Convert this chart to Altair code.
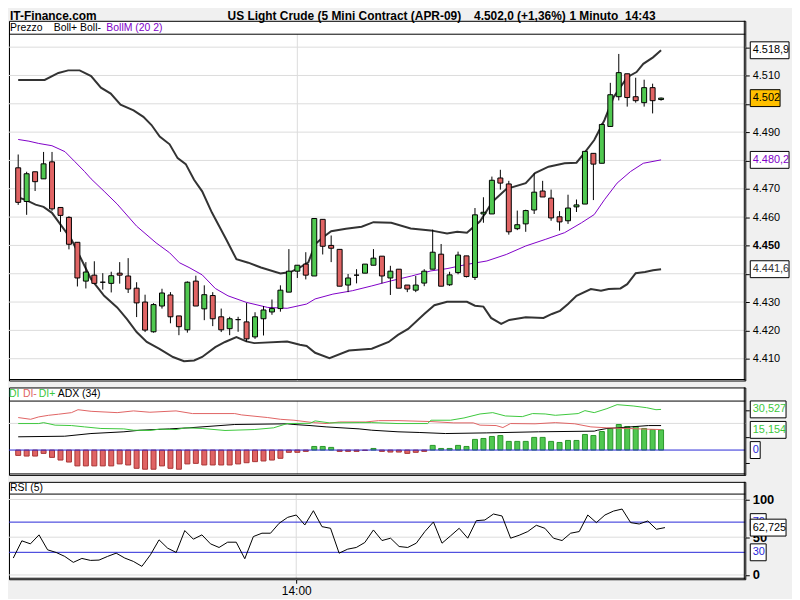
import altair as alt
import pandas as pd

FONT = "Liberation Sans"

# ---------------- data ----------------
idx = list(range(77))  # 1-minute candles, index 0 = 13:27, 33 = 14:00, 76 = 14:43
opens = [4477.4, 4465.5, 4476.0, 4473.5, 4479.5, 4463.4, 4459.9, 4451.1, 4437.4, 4439.5,
         4437.0, 4436.6, 4440.2, 4439.2, 4434.9, 4430.0, 4419.5, 4428.6, 4432.5, 4425.1,
         4420.2, 4437.4, 4427.6, 4432.3, 4424.8, 4420.6, 4423.8, 4423.0, 4417.7, 4424.1,
         4426.5, 4427.7, 4433.5, 4440.9, 4443.4, 4439.2, 4459.2, 4450.0, 4448.6, 4436.0,
         4439.5, 4440.2, 4443.0, 4446.2, 4438.5, 4441.6, 4436.0, 4434.2, 4436.7, 4441.6,
         4446.9, 4436.1, 4440.4, 4446.3, 4438.7, 4461.1, 4461.1, 4473.8, 4471.7, 4455.9,
         4457.6, 4462.5, 4469.2, 4466.7, 4460.1, 4458.7, 4463.6, 4464.6, 4482.5, 4479.0,
         4492.0, 4502.5, 4510.6, 4502.5, 4500.4, 4505.7, 4501.5]
highs = [4482.1, 4476.0, 4476.0, 4483.0, 4483.0, 4463.4, 4460.3, 4451.1, 4444.1, 4444.4,
         4440.2, 4440.7, 4444.1, 4445.5, 4437.0, 4432.6, 4429.6, 4434.7, 4433.5, 4425.1,
         4437.3, 4439.3, 4435.9, 4433.5, 4427.7, 4424.8, 4424.8, 4429.7, 4426.4, 4428.6,
         4430.9, 4435.9, 4448.7, 4443.0, 4447.6, 4459.5, 4459.2, 4453.5, 4448.6, 4439.9,
         4441.6, 4443.4, 4448.7, 4446.2, 4442.8, 4441.6, 4436.0, 4439.2, 4441.6, 4455.6,
         4450.5, 4440.7, 4447.8, 4446.3, 4463.2, 4467.0, 4474.3, 4476.7, 4472.8, 4462.3,
         4462.6, 4475.5, 4472.8, 4469.7, 4462.1, 4467.9, 4466.2, 4483.2, 4482.5, 4493.1,
         4507.4, 4517.6, 4510.6, 4509.2, 4508.5, 4507.1, 4502.2]
lows = [4464.3, 4460.8, 4469.2, 4473.5, 4462.2, 4454.8, 4448.6, 4435.5, 4434.8, 4436.6,
        4434.4, 4433.4, 4436.5, 4433.2, 4424.7, 4419.4, 4419.2, 4427.7, 4422.5, 4418.3,
        4419.2, 4428.6, 4423.6, 4421.5, 4419.4, 4418.3, 4419.5, 4416.0, 4417.0, 4418.2,
        4425.5, 4426.6, 4433.5, 4438.5, 4438.0, 4439.2, 4446.8, 4444.1, 4435.6, 4433.5,
        4436.6, 4440.2, 4443.0, 4436.6, 4432.5, 4434.9, 4433.5, 4433.5, 4435.6, 4441.6,
        4435.6, 4435.7, 4439.8, 4438.7, 4437.8, 4458.0, 4461.1, 4469.7, 4453.8, 4455.4,
        4454.8, 4461.1, 4467.1, 4458.7, 4455.2, 4457.6, 4461.8, 4464.6, 4466.0, 4479.0,
        4492.0, 4501.2, 4499.0, 4500.4, 4499.0, 4496.6, 4501.1]
closes = [4465.2, 4475.3, 4472.5, 4478.8, 4462.9, 4460.6, 4450.4, 4438.5, 4440.6, 4436.6,
          4437.0, 4439.3, 4439.5, 4434.6, 4429.7, 4420.1, 4429.1, 4433.2, 4424.8, 4421.3,
          4437.0, 4428.6, 4432.6, 4424.1, 4420.2, 4424.1, 4423.8, 4417.0, 4424.8, 4427.2,
          4427.7, 4434.2, 4440.9, 4443.0, 4439.5, 4459.5, 4449.7, 4449.0, 4435.6, 4438.5,
          4439.5, 4443.4, 4445.5, 4439.2, 4440.9, 4434.9, 4434.6, 4436.0, 4440.9, 4447.6,
          4435.6, 4439.6, 4446.6, 4439.0, 4460.8, 4461.7, 4473.0, 4472.0, 4454.8, 4457.3,
          4462.3, 4468.8, 4467.1, 4459.7, 4458.3, 4463.2, 4464.3, 4483.2, 4478.7, 4492.7,
          4503.2, 4511.0, 4502.2, 4501.1, 4505.7, 4501.1, 4502.0]

upper_x = [0, 3.13, 4.75, 5.91, 7.27, 8.62, 9.78, 10.94, 12.1, 13.64, 14.8, 15.76, 16.73, 17.9,
           18.85, 19.81, 20.79, 21.75, 22.9, 24.6, 25.8, 27.2, 28.7, 31.0, 32.2, 33.3, 34.3, 35.1,
           36.0, 37.0, 38.75, 40.6, 42.0, 44.1, 46.4, 48.75, 50.7, 51.9, 53.05, 54.6, 56.1, 57.7,
           60.0, 61.1, 62.7, 64.6, 66.0, 66.9, 68.1, 69.3, 70.4, 72.0, 73.1, 73.9, 75.05, 76]
upper_v = [4508.4, 4508.4, 4510.9, 4511.8, 4511.8, 4509.8, 4505.7, 4503.6, 4499.7, 4497.7,
           4495.4, 4492.5, 4488.4, 4485.7, 4480.8, 4478.7, 4473.2, 4469.1, 4461.6, 4452.1,
           4445.1, 4443.9, 4442.2, 4440.1, 4440.6, 4442.2, 4444.0, 4450.4, 4452.8, 4455.0,
           4455.9, 4456.6, 4458.2, 4458.0, 4456.0, 4455.3, 4454.2, 4454.8, 4454.5, 4458.5,
           4465.5, 4469.9, 4472.0, 4475.5, 4477.8, 4479.0, 4479.2, 4482.5, 4487.2, 4494.2,
           4502.4, 4509.4, 4511.2, 4514.1, 4516.4, 4518.9]
mid_x = [0, 1.27, 2.43, 3.99, 5.53, 6.69, 7.84, 8.62, 10.16, 11.7, 14.0, 16.3, 17.9, 19.05,
         20.2, 21.75, 23.3, 24.8, 26.96, 29.5, 31.8, 34.1, 35.1, 37.2, 39.5, 41.8, 44.1, 46.5,
         48.8, 50.7, 53.05, 55.4, 57.7, 60.0, 62.3, 64.6, 66.6, 68.1, 69.3, 70.8, 72.4, 73.9, 76]
mid_v = [4487.4, 4486.8, 4486.0, 4485.2, 4483.1, 4479.6, 4476.1, 4473.5, 4469.1, 4464.6,
         4456.8, 4450.9, 4447.4, 4443.9, 4442.2, 4439.6, 4434.8, 4432.2, 4429.9, 4428.1,
         4427.8, 4429.3, 4431.1, 4432.8, 4434.0, 4435.7, 4437.5, 4439.2, 4441.0, 4441.8,
         4443.3, 4444.5, 4446.8, 4449.8, 4452.1, 4454.5, 4458.0, 4460.9, 4466.1, 4472.0,
         4476.1, 4479.0, 4480.2]
lower_x = [0, 0.89, 2.05, 3.0, 3.99, 5.14, 6.3, 7.46, 8.62, 10.16, 11.7, 12.86, 14.0, 15.2,
           16.7, 18.3, 19.6, 20.8, 21.75, 23.3, 24.45, 25.8, 26.96, 27.9, 31.8, 33.3, 34.1,
           35.1, 36.8, 39.1, 41.8, 43.8, 44.9, 46.1, 48.0, 49.2, 50.7, 53.05, 54.0, 55.0, 55.9,
           57.1, 58.05, 60.0, 62.1, 63.1, 64.05, 65.0, 66.0, 67.7, 68.9, 69.8, 71.2, 72.0, 73.0,
           74.1, 75.05, 76]
lower_v = [4466.9, 4466.1, 4464.4, 4463.6, 4461.5, 4456.8, 4452.1, 4445.1, 4438.1, 4432.2,
           4428.1, 4424.0, 4419.4, 4415.9, 4413.5, 4410.6, 4409.1, 4409.4, 4410.6, 4414.1,
           4415.9, 4417.6, 4416.1, 4415.5, 4416.1, 4414.9, 4414.5, 4412.1, 4410.2, 4412.9,
           4413.5, 4415.9, 4418.4, 4420.5, 4425.8, 4428.9, 4430.1, 4430.1, 4428.7, 4428.4,
           4424.4, 4422.3, 4423.7, 4424.6, 4424.4, 4425.8, 4426.9, 4429.3, 4432.2, 4434.6,
           4434.0, 4434.6, 4434.8, 4436.3, 4440.2, 4440.6, 4441.2, 4441.6]

# DI histogram (DI+ minus DI-), one bar per candle
di_hist = [-4.0, -4.5, -4.5, -2.5, -5.5, -7.5, -9.0, -11.9, -11.9, -11.9,
           -11.9, -11.9, -10.4, -11.2, -13.7, -14.4, -14.4, -11.9, -13.7, -14.4,
           -10.4, -10.0, -11.2, -11.2, -11.2, -11.2, -10.4, -9.5, -8.7, -8.2,
           -7.5, -6.2, -1.7, -1.7, -1.0, 2.7, 2.7, 2.0, -1.0, -1.0,
           -1.0, -0.3, 1.2, -1.0, -1.5, -1.5, -2.5, -1.7, -1.0, 3.5,
           1.2, 1.2, 3.5, 2.7, 8.0, 8.7, 10.2, 10.9, 6.5, 6.5,
           6.5, 9.5, 9.5, 6.5, 5.7, 7.2, 7.2, 11.7, 10.9, 13.9,
           16.2, 19.2, 17.7, 17.7, 16.2, 15.4, 15.154]
dim_x = [0, 1.47, 2.43, 3.59, 4.75, 6.3, 7.07, 8.62, 11.7, 13.64, 15.57, 18.66, 20.6, 25.6,
         26.4, 29.5, 31.0, 32.6, 34.9, 36.4, 37.97, 41.1, 42.6, 44.9, 48.8, 51.5, 53.8, 54.6,
         56.5, 57.3, 58.2, 61.1, 63.5, 65.8, 67.7, 69.6, 72.0, 74.3, 76]
dim_v = [24.4, 23.1, 24.9, 26.1, 26.9, 28.1, 30.3, 29.1, 28.1, 29.4, 28.4, 29.4, 27.4, 27.4,
         26.4, 24.4, 23.1, 22.4, 20.6, 19.9, 21.1, 21.1, 22.1, 22.1, 21.4, 20.4, 20.4, 18.7,
         18.4, 16.9, 19.9, 19.7, 20.6, 19.7, 17.4, 16.7, 16.2, 15.7, 15.4]
dip_x = [0, 2.43, 3.0, 4.37, 6.3, 7.84, 9.78, 12.48, 13.64, 15.57, 16.73, 18.66, 19.8, 21.75,
         24.45, 27.9, 30.2, 31.8, 34.5, 35.1, 36.8, 40.3, 41.8, 44.9, 48.4, 48.8, 51.1, 52.7,
         54.6, 56.1, 57.6, 59.6, 60.8, 62.3, 63.5, 66.2, 67.0, 68.1, 69.6, 70.8, 72.7, 74.3,
         75.4, 76]
dip_v = [19.9, 19.9, 20.6, 18.7, 18.4, 17.4, 16.2, 15.9, 14.9, 14.7, 15.7, 15.4, 16.7, 16.2,
         14.7, 15.4, 16.7, 19.9, 20.1, 21.9, 20.4, 20.6, 20.6, 19.9, 19.9, 22.4, 22.4, 24.1,
         27.1, 28.1, 25.6, 25.1, 27.4, 27.1, 26.1, 27.4, 29.6, 28.1, 31.1, 34.1, 33.1, 31.8,
         30.3, 30.527]
adx_x = [0, 5.5, 8.6, 12.5, 14.4, 17.9, 20.2, 25.6, 31.8, 32.6, 34.5, 36.4, 40.3, 41.8, 44.9,
         47.4, 50.5, 55.4, 61.5, 68.1, 68.5, 69.6, 72.0, 74.5, 76]
adx_v = [9.95, 10.4, 12.4, 13.7, 14.9, 15.9, 16.7, 19.2, 19.7, 19.2, 18.4, 17.4, 15.9, 14.9,
         13.7, 13.2, 12.4, 12.9, 13.7, 14.2, 14.9, 16.2, 17.2, 18.4, 18.4]

rsi = [22.4, 45.2, 41.2, 53.1, 33.3, 29.8, 24.6, 16.7, 21.9, 19.3,
       19.7, 24.6, 28.9, 22.4, 18.0, 11.4, 26.8, 46.5, 35.5, 29.8,
       58.8, 47.4, 53.1, 41.2, 36.4, 43.4, 43.4, 21.5, 50.9, 55.3,
       55.3, 68.4, 76.3, 79.4, 66.2, 85.1, 64.0, 61.8, 28.9, 34.2,
       36.4, 43.0, 59.6, 45.6, 48.7, 37.7, 36.4, 42.1, 57.5, 70.2,
       42.1, 51.8, 61.8, 48.7, 71.9, 72.8, 80.7, 78.1, 48.7, 52.6,
       57.5, 65.8, 61.8, 48.7, 45.6, 55.3, 57.5, 79.4, 69.3, 79.4,
       84.6, 87.3, 69.3, 67.5, 71.5, 60.5, 62.725]

price_ticks = [4410, 4420, 4430, 4440, 4450, 4460, 4470, 4480, 4490, 4500, 4510, 4520]
price_hidden = [4440, 4480, 4500, 4520]
adx_ticks = [-10, 10, 30]
adx_ref = [20]
rsi_ticks = [0, 50, 100]
rsi_levels = [30, 70]
time_ticks = [33]
change_pct = 1.36

# ---------------- style / layout ----------------
W = 741
HM, HA, HR = 362, 88, 98
UP, DOWN = "#50c850", "#e06464"
UP_EDGE, DOWN_EDGE = "#2a962a", "#a83434"
PURPLE = "#8000c8"
BLUE = "#2828d8"
GRID = "#dcdcdc"
BG = "#f0f0f0"

xs = alt.Scale(domain=[-0.5, 85.37], nice=False, zero=False)
ys_main = alt.Scale(domain=[4402.3, 4529.3], nice=False, zero=False)
ys_adx = alt.Scale(domain=[-18.66, 47.0], nice=False, zero=False)
ys_rsi = alt.Scale(domain=[-5.66, 123.3], nice=False, zero=False)

DUMMY = pd.DataFrame({"a": [0]})


def it_fmt(v, dec):
    s = f"{v:,.{dec}f}"
    return s.replace(",", "#").replace(".", ",").replace("#", ".")


def hrule_px(y, color="black", width=1, x0=0, x1=W):
    return alt.Chart(DUMMY).mark_rule(color=color, strokeWidth=width).encode(
        x=alt.value(x0), x2=alt.value(x1), y=alt.value(y))


def vrule_px(x, y0, y1, color="black", width=1):
    return alt.Chart(DUMMY).mark_rule(color=color, strokeWidth=width).encode(
        x=alt.value(x), y=alt.value(y0), y2=alt.value(y1))


def text_px(txt, x, y, color="black", size=11, weight="normal"):
    return alt.Chart(DUMMY).mark_text(text=txt, align="left", baseline="middle", fontSize=size,
                                      fontWeight=weight, font=FONT, color=color).encode(
        x=alt.value(x), y=alt.value(y))


def box(val, label, scale, axis, cx, w, h=17, fill="white", tcolor="black"):
    r = round(h / w, 4)
    path = f"M-1,-{r}L1,-{r}L1,{r}L-1,{r}Z"
    df = pd.DataFrame({"v": [val], "t": [label]})
    b = alt.Chart(df)
    pt = b.mark_point(shape=path, size=w * w, filled=True, fill=fill, stroke="black",
                      strokeWidth=1, opacity=1).encode(
        x=alt.value(cx), y=alt.Y("v:Q", scale=scale, axis=axis))
    tx = b.mark_text(align="left", baseline="middle", fontSize=11, font=FONT, color=tcolor).encode(
        x=alt.value(cx - w / 2 + 2.5), y=alt.Y("v:Q", scale=scale, axis=axis), text="t:N")
    return [pt, tx]


def vgrid(strip_y, h, axis_x):
    return alt.Chart(pd.DataFrame({"i": time_ticks})).mark_rule(color=GRID).encode(
        x=alt.X("i:Q", scale=xs, axis=axis_x), y=alt.value(strip_y), y2=alt.value(h))


# ---------------- main (price) panel ----------------
main_axis = alt.Axis(
    orient="right", values=price_ticks, title=None, grid=False, domain=False,
    tickSize=4, tickColor="black", labelPadding=3, labelFontSize=11, labelFont=FONT,
    labelColor="black",
    labelExpr="indexof(%s, datum.value) >= 0 ? '' : replace(format(datum.value, ','), ',', '.')"
              % str(price_hidden),
    labelFontWeight={"condition": {"test": "datum.value == 4450", "value": "bold"}, "value": "normal"},
)

candles = pd.DataFrame({"i": idx, "o": opens, "h": highs, "l": lows, "c": closes})
cbase = alt.Chart(candles)
X = alt.X("i:Q", scale=xs, axis=None)

m_grid = alt.Chart(pd.DataFrame({"v": price_ticks})).mark_rule(color=GRID).encode(
    y=alt.Y("v:Q", scale=ys_main, axis=main_axis), x=alt.value(0), x2=alt.value(W))


def band(xv, vv, color, width):
    df = pd.DataFrame({"x": xv, "v": vv})
    return alt.Chart(df).mark_line(color=color, strokeWidth=width).encode(
        x=alt.X("x:Q", scale=xs, axis=None), y=alt.Y("v:Q", scale=ys_main, axis=main_axis),
        order="x:Q")


wicks = cbase.mark_rule(color="black", strokeWidth=1).encode(
    x=X, y=alt.Y("l:Q", scale=ys_main, axis=main_axis), y2="h:Q")
bodies = cbase.mark_bar(width=5, stroke="black", strokeWidth=1).encode(
    x=X, y=alt.Y("o:Q", scale=ys_main, axis=main_axis), y2="c:Q",
    fill=alt.condition("datum.c >= datum.o", alt.value(UP), alt.value(DOWN)))

title_main = "US Light Crude (5 Mini Contract (APR-09)"
title_price = f"{it_fmt(closes[-1], 1)} (+{it_fmt(change_pct, 2)}%)"

main_layers = [
    m_grid,
    vgrid(13.5, HM, None),
    band(upper_x, upper_v, "#333333", 2),
    band(lower_x, lower_v, "#333333", 2),
    band(mid_x, mid_v, PURPLE, 1),
    wicks, bodies,
    hrule_px(13.5),
    text_px("Prezzo", 1, 7.2, size=10.5),
    text_px("Boll+  Boll-", 45, 7.2, size=10.5),
    text_px("BollM (20 2)", 98, 7.2, color=PURPLE, size=10.5),
    text_px("IT-Finance.com", 1, -4.5, size=12, weight="bold"),
    text_px(title_main, 220, -4.5, size=12, weight="bold"),
    text_px(title_price, 468, -4.5, size=12, weight="bold"),
    text_px("1 Minuto", 564, -4.5, size=12, weight="bold"),
    text_px("14:43", 620, -4.5, size=12, weight="bold"),
    vrule_px(W - 1, 0, HM),
    hrule_px(HM - 1),
]
main_layers += box(upper_v[-1], it_fmt(upper_v[-1], 1), ys_main, main_axis, 765.5, 39)
main_layers += box(mid_v[-1], it_fmt(mid_v[-1], 1), ys_main, main_axis, 765.5, 39, tcolor=PURPLE)
main_layers += box(lower_v[-1], it_fmt(lower_v[-1], 1), ys_main, main_axis, 765.5, 39, tcolor="#333333")
main_layers += box(closes[-1], it_fmt(closes[-1], 0), ys_main, main_axis, 761, 30, fill="#ffc000")
main = alt.layer(*main_layers).properties(width=W, height=HM)

# ---------------- ADX panel ----------------
adx_axis = alt.Axis(orient="right", values=adx_ticks, title=None, grid=False, domain=False,
                    labels=False, tickSize=4, tickColor="black")
hist_df = pd.DataFrame({"i": idx, "d": di_hist})
a_ref = alt.Chart(pd.DataFrame({"v": adx_ref})).mark_rule(color=GRID).encode(
    y=alt.Y("v:Q", scale=ys_adx, axis=adx_axis), x=alt.value(0), x2=alt.value(W))
a_zero = alt.Chart(pd.DataFrame({"v": [0]})).mark_rule(color=BLUE, strokeWidth=1).encode(
    y=alt.Y("v:Q", scale=ys_adx, axis=adx_axis), x=alt.value(0), x2=alt.value(W))
a_bars = alt.Chart(hist_df).mark_bar(width=5, strokeWidth=1).encode(
    x=X, y=alt.Y("d:Q", scale=ys_adx, axis=adx_axis), y2=alt.datum(0),
    fill=alt.condition("datum.d >= 0", alt.value(UP), alt.value(DOWN)),
    stroke=alt.condition("datum.d >= 0", alt.value(UP_EDGE), alt.value(DOWN_EDGE)))


def adx_line(xv, vv, color):
    df = pd.DataFrame({"x": xv, "v": vv})
    return alt.Chart(df).mark_line(color=color, strokeWidth=1).encode(
        x=alt.X("x:Q", scale=xs, axis=None), y=alt.Y("v:Q", scale=ys_adx, axis=adx_axis),
        order="x:Q")


adx_layers = [
    a_ref,
    vgrid(13.7, HA, None),
    a_bars,
    a_zero,
    adx_line(adx_x, adx_v, "black"),
    adx_line(dim_x, dim_v, DOWN),
    adx_line(dip_x, dip_v, "#3cc83c"),
    hrule_px(13.7),
    text_px("DI", 0, 7, color="#3cc83c", size=10.5),
    text_px("DI-", 14, 7, color=DOWN, size=10.5),
    text_px("DI+", 30, 7, color="#3cc83c", size=10.5),
    text_px("ADX (34)", 49, 7, size=10.5),
    vrule_px(W - 1, 0, HA),
    hrule_px(HA - 1),
]
adx_layers += box(dip_v[-1], it_fmt(dip_v[-1], 3), ys_adx, adx_axis, 764, 36, tcolor="#3cc83c")
adx_layers += box(di_hist[-1], it_fmt(di_hist[-1], 3), ys_adx, adx_axis, 764, 36, tcolor="#3cc83c")
adx_layers += box(0, "0", ys_adx, adx_axis, 751, 10, tcolor=BLUE)
adx = alt.layer(*adx_layers).properties(width=W, height=HA)

# ---------------- RSI panel ----------------
rsi_axis = alt.Axis(orient="right", values=rsi_ticks, title=None, grid=False, domain=False,
                    tickSize=4, tickColor="black", labelPadding=3, labelFontSize=13,
                    labelFont=FONT, labelFontWeight="bold", labelColor="black")
time_axis = alt.Axis(orient="bottom", values=time_ticks, title=None, grid=False, domain=False,
                     tickSize=4, tickColor="black", labelPadding=2, labelFontSize=12,
                     labelFont=FONT, labelColor="black", labelFlush=False,
                     labelExpr="timeFormat(datetime(2009, 2, 2, 13, 27 + datum.value), '%H:%M')")
XR = alt.X("i:Q", scale=xs, axis=time_axis)
r_grid = alt.Chart(pd.DataFrame({"v": rsi_ticks})).mark_rule(color=GRID).encode(
    y=alt.Y("v:Q", scale=ys_rsi, axis=rsi_axis), x=alt.value(0), x2=alt.value(W))
r_lev = alt.Chart(pd.DataFrame({"v": rsi_levels})).mark_rule(color=BLUE).encode(
    y=alt.Y("v:Q", scale=ys_rsi, axis=rsi_axis), x=alt.value(0), x2=alt.value(W))
r_line = alt.Chart(pd.DataFrame({"i": idx, "r": rsi})).mark_line(color="black", strokeWidth=1).encode(
    x=XR, y=alt.Y("r:Q", scale=ys_rsi, axis=rsi_axis))

rsi_layers = [
    r_grid,
    vgrid(12.3, HR, time_axis),
    r_lev,
    r_line,
    hrule_px(12.3),
    text_px("RSI (5)", 1, 6, size=10.5),
    vrule_px(W - 1, 0, HR),
    hrule_px(HR - 1),
]
rsi_layers += box(rsi_levels[1], str(rsi_levels[1]), ys_rsi, rsi_axis, 754, 16, tcolor=BLUE)
rsi_layers += box(rsi_levels[0], str(rsi_levels[0]), ys_rsi, rsi_axis, 754, 16, tcolor=BLUE)
rsi_layers += box(rsi[-1], it_fmt(rsi[-1], 3), ys_rsi, rsi_axis, 764, 36)
rsi_chart = alt.layer(*rsi_layers).properties(width=W, height=HR)

chart = alt.vconcat(main, adx, rsi_chart, spacing=5).properties(
    padding=0, background=BG
).configure_view(stroke="black", strokeWidth=1, fill="white")

chart.save("out.html", embed_options={"renderer": "svg", "actions": False})
